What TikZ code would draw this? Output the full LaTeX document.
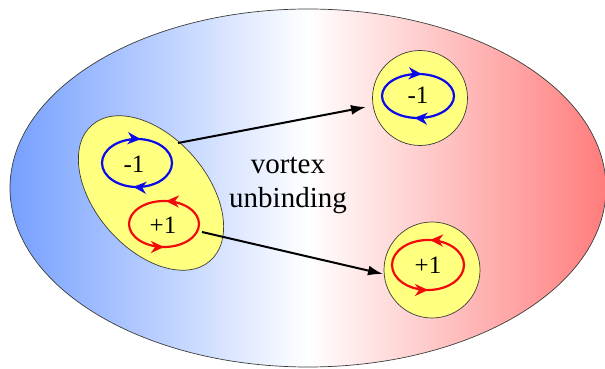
\documentclass[tikz,border=0pt]{standalone}
\usepackage{fontspec}
\setmainfont{Liberation Serif}
\newfontfamily\vserif{Liberation Serif}
\usetikzlibrary{shapes.geometric,arrows.meta,decorations.markings}
\definecolor{vblue}{RGB}{118,160,255}
\definecolor{vred}{RGB}{255,124,124}
\definecolor{vyellow}{RGB}{255,255,128}
\definecolor{vborder}{RGB}{60,60,60}
\definecolor{loopblue}{RGB}{10,10,235}
\definecolor{loopred}{RGB}{240,10,10}
\tikzset{
  bubble/.style={draw=vborder, line width=0.7pt, fill=vyellow, inner sep=0pt, outer sep=0pt},
  cwloop/.style={line width=2.2pt, postaction={decorate},
    decoration={markings,
      mark=at position 0.23 with {\arrowreversed{Stealth[length=13pt,width=12pt,inset=4pt]}},
      mark=at position 0.73 with {\arrowreversed{Stealth[length=13pt,width=12pt,inset=4pt]}}}},
  ccwloop/.style={line width=2.2pt, postaction={decorate},
    decoration={markings,
      mark=at position 0.24 with {\arrow{Stealth[length=13pt,width=12pt,inset=4pt]}},
      mark=at position 0.75 with {\arrow{Stealth[length=13pt,width=12pt,inset=4pt]}}}},
  charge/.style={font=\vserif\fontsize{25}{28}\selectfont, inner sep=0pt},
  unbind/.style={-{Latex[length=15pt,width=10pt]}, line width=2pt, black},
}
\begin{document}
\begin{tikzpicture}[x=1pt,y=1pt]
\useasboundingbox (0,0) rectangle (605,369);
% background ellipse
\node[ellipse, draw=vborder, line width=0.7pt, minimum width=596pt, minimum height=358pt,
      inner sep=0pt, left color=vblue, right color=vred, middle color=white] (bg) at (308,181) {};
% bound pair
\node[bubble, ellipse, rotate=-49, minimum width=180pt, minimum height=112pt] (pair) at (151,176) {};
% free vortices
\node[bubble, circle, minimum size=95pt] (free1) at (420,271) {};
\node[bubble, circle, minimum size=96pt] (free2) at (432,99) {};
% loops
\draw[loopblue, cwloop] (137,206) ellipse [x radius=35, y radius=24];
\draw[loopred, ccwloop] (164,145) ellipse [x radius=35, y radius=23];
\draw[loopblue, cwloop] (418,273) ellipse [x radius=36, y radius=22];
\draw[loopred, ccwloop] (428,104) ellipse [x radius=36, y radius=25];
% labels
\node[charge] (m1) at (134,205) {-1};
\node[charge] (p1) at (163,144) {+1};
\node[charge] (m2) at (418,274) {-1};
\node[charge] (p2) at (428,104) {+1};
\node[font=\vserif\fontsize{29}{34}\selectfont, align=center, inner sep=0pt] (txt) at (288,184) {vortex\\unbinding};
% arrows
\coordinate (a1s) at (178,226);
\coordinate (a1e) at (366,262);
\coordinate (a2s) at (202,137);
\coordinate (a2e) at (383,95);
\draw[unbind] (a1s) -- (a1e);
\draw[unbind] (a2s) -- (a2e);
\end{tikzpicture}
\end{document}
